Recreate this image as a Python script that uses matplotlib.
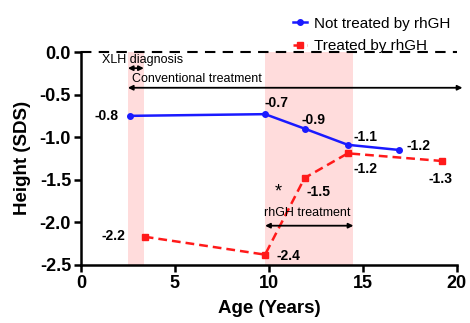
import matplotlib
matplotlib.use("Agg")
import matplotlib.pyplot as plt

plt.rcParams["font.family"] = ["Liberation Sans", "DejaVu Sans"]

# data
age_not = [2.6, 9.8, 11.9, 14.2, 16.9]
sds_not = [-0.75, -0.73, -0.90, -1.09, -1.15]
lbl_not = ["-0.8", "-0.7", "-0.9", "-1.1", "-1.2"]

age_trt = [3.4, 9.8, 11.9, 14.2, 19.2]
sds_trt = [-2.17, -2.38, -1.48, -1.19, -1.28]
lbl_trt = ["-2.2", "-2.4", "-1.5", "-1.2", "-1.3"]

shade_spans = [(2.5, 3.35), (9.8, 14.5)]

fig = plt.figure(figsize=(4.7, 3.23), dpi=100)
ax = fig.add_axes([0.172, 0.18, 0.80, 0.659])

for a, b in shade_spans:
    ax.axvspan(a, b, ymin=0, ymax=1, color="#ffdcdc", lw=0, zorder=0)

ax.axhline(0, color="black", ls=(0, (5, 3.5)), lw=1.5, zorder=1, clip_on=False)

ax.plot(age_not, sds_not, color="#1a1aff", lw=1.8, marker="o", ms=4,
        label="Not treated by rhGH", zorder=3)
ax.plot(age_trt, sds_trt, color="#ff1a1a", lw=1.8, ls=(0, (3.5, 2)), marker="s",
        ms=4, label="Treated by rhGH", zorder=3)

# value labels
off_not = [(-1.85, 0.0), (-0.05, 0.13), (-0.15, 0.10), (0.3, 0.09), (0.4, 0.05)]
for x, y, t, (dx, dy) in zip(age_not, sds_not, lbl_not, off_not):
    ax.text(x + dx, y + dy, t, fontsize=10, fontweight="bold", ha="left", va="center")
off_trt = [(-2.3, 0.01), (0.6, -0.02), (0.1, -0.17), (0.3, -0.18), (-0.7, -0.21)]
for x, y, t, (dx, dy) in zip(age_trt, sds_trt, lbl_trt, off_trt):
    ax.text(x + dx, y + dy, t, fontsize=10, fontweight="bold", ha="left", va="center")

ax.text(10.5, -1.64, "*", fontsize=13, ha="center", va="center")

# annotation arrows
arr = dict(arrowstyle="<|-|>", color="black", lw=1.3, mutation_scale=7, shrinkA=0, shrinkB=0)
ax.annotate("", xy=(2.5, -0.19), xytext=(3.35, -0.19), arrowprops=arr)
ax.text(1.1, -0.09, "XLH diagnosis", fontsize=9, ha="left", va="center")
ax.annotate("", xy=(2.5, -0.42), xytext=(20.3, -0.42), arrowprops=arr, annotation_clip=False)
ax.text(2.7, -0.32, "Conventional treatment", fontsize=9, ha="left", va="center")
ax.annotate("", xy=(9.8, -2.04), xytext=(14.5, -2.04), arrowprops=arr)
ax.text(9.75, -1.89, "rhGH treatment", fontsize=9, ha="left", va="center")

ax.set_xlim(0, 20)
ax.set_ylim(-2.5, 0)
ax.set_xticks([0, 5, 10, 15, 20])
ax.set_yticks([0, -0.5, -1.0, -1.5, -2.0, -2.5])
ax.set_yticklabels(["0.0", "-0.5", "-1.0", "-1.5", "-2.0", "-2.5"])
for lab in ax.get_xticklabels() + ax.get_yticklabels():
    lab.set_fontweight("bold")
    lab.set_fontsize(13)
ax.tick_params(width=1.8, length=5, pad=2)
ax.spines["top"].set_visible(False)
ax.spines["right"].set_visible(False)
ax.spines["left"].set_linewidth(1.8)
ax.spines["bottom"].set_linewidth(1.8)
ax.set_xlabel("Age (Years)", fontsize=13.5, fontweight="bold", labelpad=6)
ax.set_ylabel("Height (SDS)", fontsize=13.5, fontweight="bold", labelpad=6)

ax.legend(loc="lower right", bbox_to_anchor=(1.02, 0.93), frameon=False,
          fontsize=11, handlelength=0.9, handletextpad=0.5, labelspacing=0.55)

fig.savefig("out.png", dpi=100)
